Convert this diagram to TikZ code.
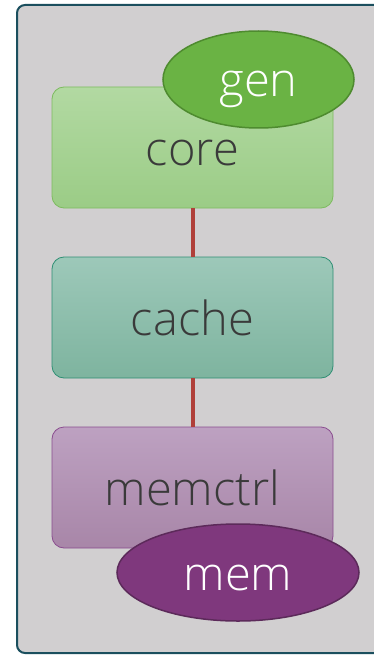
\documentclass[tikz,border=0pt]{standalone}
\usepackage{fontspec}
\setmainfont{Open Sans Light}
\usetikzlibrary{shapes.geometric}
\definecolor{panelfill}{HTML}{D1CFD0}
\definecolor{panelline}{HTML}{1B4F5E}
\definecolor{textgray}{HTML}{3A3A3A}
\definecolor{linkred}{HTML}{B0403A}
\definecolor{coretop}{HTML}{B2D9A2}
\definecolor{corebot}{HTML}{9BCC86}
\definecolor{coreline}{HTML}{7DBB5F}
\definecolor{cachetop}{HTML}{9DC8B9}
\definecolor{cachebot}{HTML}{7EB49F}
\definecolor{cacheline}{HTML}{2F8F74}
\definecolor{memtop}{HTML}{BDA1C1}
\definecolor{membot}{HTML}{A886A8}
\definecolor{memline}{HTML}{8A4D8F}
\definecolor{genfill}{HTML}{6AB344}
\definecolor{genline}{HTML}{4E8B2F}
\definecolor{badgefill}{HTML}{7F387D}
\definecolor{badgeline}{HTML}{5C2A5A}
\tikzset{
  bigtext/.style={font=\fontsize{47}{47}\selectfont, text height=35pt, text depth=0pt},
  unitbox/.style={rectangle, rounded corners=12pt, minimum width=281pt,
    minimum height=121pt, line width=0.8pt, text=textgray, bigtext, inner sep=0pt},
  badge/.style={ellipse, line width=1.5pt, inner sep=0pt, text=white, bigtext},
  link/.style={draw=linkred, line width=4pt}
}
\begin{document}
\begin{tikzpicture}[x=1pt,y=-1pt]
\useasboundingbox (0,0) rectangle (374,655);
\clip (0,0) rectangle (374,655);
% outer panel
\draw[fill=panelfill, draw=panelline, line width=2pt, rounded corners=8pt]
  (17,5) rectangle (400,653);
% units
\node[unitbox, draw=coreline, top color=coretop, bottom color=corebot] (core) at (192.5,147.5) {core};
\node[unitbox, draw=cacheline, top color=cachetop, bottom color=cachebot] (cache) at (192.5,317.5) {cache};
\node[unitbox, draw=memline, top color=memtop, bottom color=membot] (memctrl) at (192.5,487.5) {memctrl};
% links between units
\draw[link] (core.south) -- (cache.north);
\draw[link] (cache.south) -- (memctrl.north);
% badges
\node[badge, fill=genfill, draw=genline, minimum width=191pt, minimum height=97pt] (gen) at (258.5,79.5) {gen};
\node[badge, fill=badgefill, draw=badgeline, minimum width=242pt, minimum height=97pt] (mem) at (238,572.5) {mem};
\end{tikzpicture}
\end{document}
